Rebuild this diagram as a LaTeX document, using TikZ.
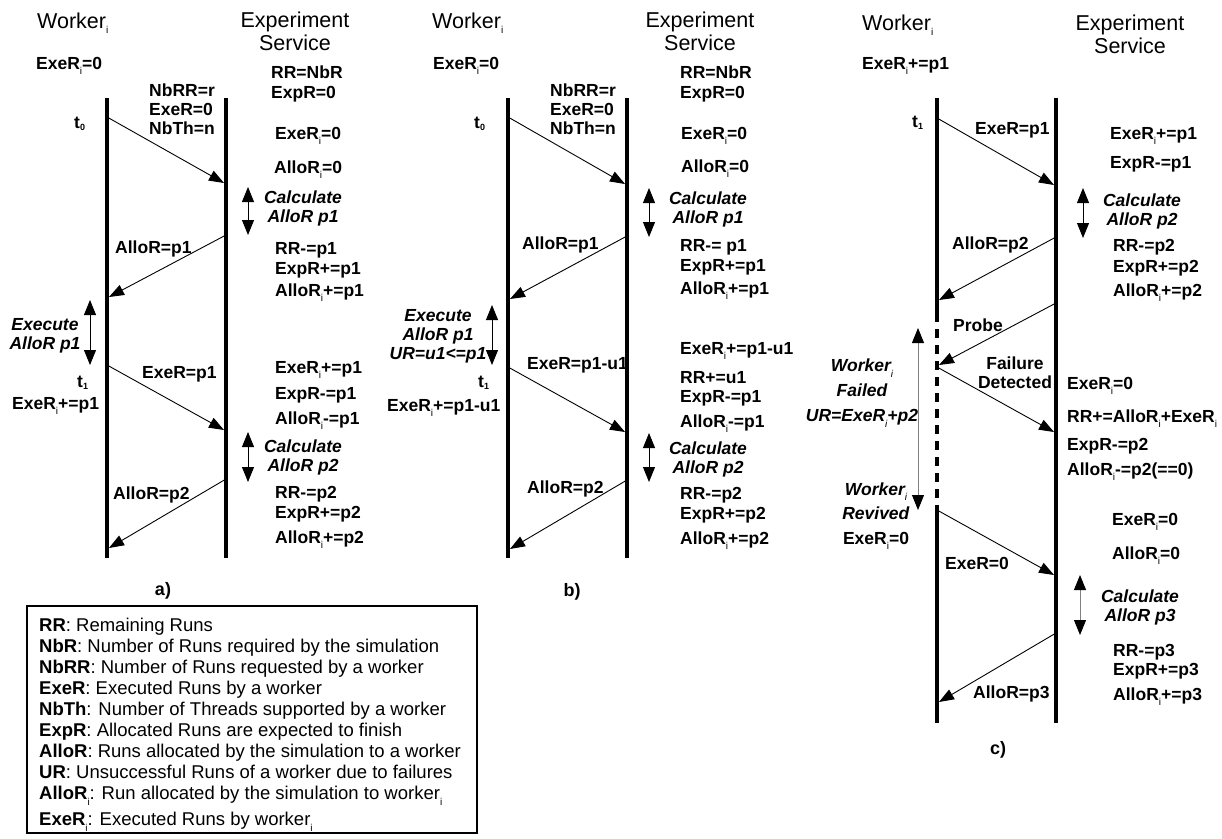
\documentclass[tikz,border=0pt]{standalone}
\usepackage{fontspec}
\setmainfont{Liberation Sans}
\usetikzlibrary{arrows.meta}
\newcommand\lowi[1]{\raisebox{-5.5pt}{\fontsize{10}{10}\selectfont\mdseries #1}}
\newcommand\lowt[1]{\raisebox{-2.5pt}{\fontsize{9}{9}\selectfont #1}}
\tikzset{
  life/.style={line width=4pt},
  msg/.style={line width=0.9pt,-{Triangle[length=15pt,width=11pt]}},
  twoway/.style={line width=0.9pt,{Triangle[length=15pt,width=12pt,color=black]}-{Triangle[length=15pt,width=12pt,color=black]}},
  lbl/.style={font=\bfseries\fontsize{17.5}{19}\selectfont,inner sep=0pt,anchor=base west},
  act/.style={font=\bfseries\itshape\fontsize{17.5}{19}\selectfont,inner sep=0pt,align=center},
  heading/.style={font=\fontsize{21.5}{23}\selectfont,inner sep=0pt},
  tag/.style={font=\bfseries\fontsize{18}{20}\selectfont,inner sep=0pt,anchor=base},
}
\begin{document}
\begin{tikzpicture}[x=1pt,y=-1pt]
\useasboundingbox (0,0) rectangle (1222,838);

% a) normal run
\node[heading,anchor=base west] (aw) at (37,28) {Worker\lowi{i}};
\node[heading,align=center] (as) at (295,31.5) {Experiment\\Service};
\draw[life] (107,98) -- (107,558);
\draw[life] (226,98) -- (226,558);
\coordinate (aw1) at (107,117); \coordinate (as1) at (224,183);
\coordinate (as2) at (226,235); \coordinate (aw2) at (109,297);
\coordinate (aw3) at (107,365); \coordinate (as3) at (224,430);
\coordinate (as4) at (226,479); \coordinate (aw4) at (109,548);
\draw[msg] (aw1) -- (as1);
\draw[msg] (as2) -- (aw2);
\draw[msg] (aw3) -- (as3);
\draw[msg] (as4) -- (aw4);
\draw[twoway] (248,187) -- (248,235);
\draw[twoway] (248,432) -- (248,482);
\draw[twoway] (90,300) -- (90,365);
\node[lbl] (a-exe0) at (36,69) {ExeR\lowi{i}=0};
\node[lbl,align=left,anchor=north west] (a-req) at (149,83.6) {NbRR=r\\ExeR=0\\NbTh=n};
\node[lbl] (a-t0) at (74,128) {t\lowt{0}};
\node[lbl] (a-rr) at (271,78) {RR=NbR};
\node[lbl] (a-exp) at (271,98) {ExpR=0};
\node[lbl] (a-exei) at (275,139) {ExeR\lowi{i}=0};
\node[lbl] (a-alloi) at (274,173) {AlloR\lowi{i}=0};
\node[act] (a-calc1) at (303,208) {Calculate\\AlloR p1};
\node[lbl] (a-m2) at (115,253) {AlloR=p1};
\node[lbl] (a-rr1) at (275,254) {RR-=p1};
\node[lbl] (a-exp1) at (275,274) {ExpR+=p1};
\node[lbl] (a-allo1) at (275,296) {AlloR\lowi{i}+=p1};
\node[act] (a-run) at (45,336) {Execute\\AlloR p1};
\node[lbl] (a-t1) at (77,387) {t\lowt{1}};
\node[lbl] (a-exe1) at (12,409) {ExeR\lowi{i}+=p1};
\node[lbl] (a-m3) at (142,378) {ExeR=p1};
\node[lbl] (a-exei1) at (275,373) {ExeR\lowi{i}+=p1};
\node[lbl] (a-expm1) at (275,399) {ExpR-=p1};
\node[lbl] (a-allom1) at (275,424) {AlloR\lowi{i}-=p1};
\node[act] (a-calc2) at (303,457) {Calculate\\AlloR p2};
\node[lbl] (a-m4) at (113,499) {AlloR=p2};
\node[lbl] (a-rr2) at (275,498) {RR-=p2};
\node[lbl] (a-exp2) at (275,518) {ExpR+=p2};
\node[lbl] (a-allo2) at (275,543) {AlloR\lowi{i}+=p2};
\node[tag] (a-tag) at (163,595) {a)};

% b) partial run
\node[heading,anchor=base west] (bw) at (432,28) {Worker\lowi{i}};
\node[heading,align=center] (bs) at (700,31.5) {Experiment\\Service};
\draw[life] (508,98) -- (508,558);
\draw[life] (627,98) -- (627,558);
\coordinate (bw1) at (508,117); \coordinate (bs1) at (625,184);
\coordinate (bs2) at (627,236); \coordinate (bw2) at (510,299);
\coordinate (bw3) at (508,367); \coordinate (bs3) at (625,432);
\coordinate (bs4) at (627,480); \coordinate (bw4) at (510,549);
\draw[msg] (bw1) -- (bs1);
\draw[msg] (bs2) -- (bw2);
\draw[msg] (bw3) -- (bs3);
\draw[msg] (bs4) -- (bw4);
\draw[twoway] (649,188) -- (649,237);
\draw[twoway] (649,433) -- (649,482);
\draw[twoway] (492,305) -- (492,365);
\node[lbl] (b-exe0) at (433,69) {ExeR\lowi{i}=0};
\node[lbl,align=left,anchor=north west] (b-req) at (550,83.6) {NbRR=r\\ExeR=0\\NbTh=n};
\node[lbl] (b-t0) at (474,128) {t\lowt{0}};
\node[lbl] (b-rr) at (680,78) {RR=NbR};
\node[lbl] (b-exp) at (680,98) {ExpR=0};
\node[lbl] (b-exei) at (681,139) {ExeR\lowi{i}=0};
\node[lbl] (b-alloi) at (681,172) {AlloR\lowi{i}=0};
\node[act] (b-calc1) at (708,209) {Calculate\\AlloR p1};
\node[lbl] (b-m2) at (522,249) {AlloR=p1};
\node[lbl] (b-rr1) at (680,251) {RR-= p1};
\node[lbl] (b-exp1) at (680,271) {ExpR+=p1};
\node[lbl] (b-allo1) at (680,294) {AlloR\lowi{i}+=p1};
\node[act] (b-run) at (438,336) {Execute\\AlloR p1\\UR=u1<=p1};
\node[lbl] (b-t1) at (478,387) {t\lowt{1}};
\node[lbl] (b-exe1) at (387,411) {ExeR\lowi{i}+=p1-u1};
\node[lbl] (b-m3) at (527,369) {ExeR=p1-u1};
\node[lbl] (b-exei1) at (680,354) {ExeR\lowi{i}+=p1-u1};
\node[lbl] (b-rru) at (680,383) {RR+=u1};
\node[lbl] (b-expm1) at (680,402) {ExpR-=p1};
\node[lbl] (b-allom1) at (680,427) {AlloR\lowi{i}-=p1};
\node[act] (b-calc2) at (708,459) {Calculate\\AlloR p2};
\node[lbl] (b-m4) at (527,493) {AlloR=p2};
\node[lbl] (b-rr2) at (680,499) {RR-=p2};
\node[lbl] (b-exp2) at (680,519) {ExpR+=p2};
\node[lbl] (b-allo2) at (680,544) {AlloR\lowi{i}+=p2};
\node[tag] (b-tag) at (572,596) {b)};

% c) failure and revival
\node[heading,anchor=base west] (cw) at (862,30) {Worker\lowi{i}};
\node[heading,align=center] (cs) at (1130,34) {Experiment\\Service};
\draw[life] (937,98) -- (937,313);
\draw[life,dash pattern=on 9pt off 7pt] (937,313) -- (937,508);
\draw[life] (937,508) -- (937,723);
\draw[life] (1056,98) -- (1056,723);
\coordinate (cw1) at (937,118); \coordinate (cs1) at (1054,185);
\coordinate (cs2) at (1056,237); \coordinate (cw2) at (939,300);
\coordinate (cs3) at (1056,303); \coordinate (cw3) at (939,365);
\coordinate (cw4) at (937,367); \coordinate (cs4) at (1054,432);
\coordinate (cw5) at (937,510); \coordinate (cs5) at (1054,575);
\coordinate (cs6) at (1056,633); \coordinate (cw6) at (939,702);
\draw[msg] (cw1) -- (cs1);
\draw[msg] (cs2) -- (cw2);
\draw[msg] (cs3) -- (cw3);
\draw[msg] (cw4) -- (cs4);
\draw[msg] (cw5) -- (cs5);
\draw[msg] (cs6) -- (cw6);
\draw[twoway] (1083,188) -- (1083,238);
\draw[twoway,draw=gray] (918,328) -- (918,510);
\draw[twoway,draw=gray] (1080,575) -- (1080,635);
\node[lbl] (c-exe0) at (862,69) {ExeR\lowi{i}+=p1};
\node[lbl] (c-t1) at (912,127) {t\lowt{1}};
\node[lbl] (c-m1) at (975,134) {ExeR=p1};
\node[lbl] (c-exei1) at (1110,139) {ExeR\lowi{i}+=p1};
\node[lbl] (c-expm1) at (1110,168) {ExpR-=p1};
\node[act] (c-calc2) at (1142,211) {Calculate\\AlloR p2};
\node[lbl] (c-m2) at (952,249) {AlloR=p2};
\node[lbl] (c-rr2) at (1113,251) {RR-=p2};
\node[lbl] (c-exp2) at (1113,272) {ExpR+=p2};
\node[lbl] (c-allo2) at (1113,296) {AlloR\lowi{i}+=p2};
\node[lbl] (c-probe) at (953,331) {Probe};
\node[act,font=\bfseries\fontsize{17.5}{19}\selectfont] (c-fail) at (1015,373) {Failure\\Detected};
\node[act,font=\bfseries\itshape\fontsize{17.5}{25}\selectfont] (c-down) at (862,393) {Worker\lowi{i}\\Failed\\UR=ExeR\lowi{i}+p2};
\node[lbl] (c-exez) at (1067,389) {ExeR\lowi{i}=0};
\node[lbl] (c-rrback) at (1067,422) {RR+=AlloR\lowi{i}+ExeR\lowi{i}};
\node[lbl] (c-expm2) at (1067,450) {ExpR-=p2};
\node[lbl] (c-allom2) at (1067,475) {AlloR\lowi{i}-=p2(==0)};
\node[act,font=\bfseries\fontsize{17.5}{24.5}\selectfont] (c-up) at (876,516) {\textit{Worker\lowi{i}}\\\textit{Revived}\\ExeR\lowi{i}=0};
\node[lbl] (c-m5) at (945,569) {ExeR=0};
\node[lbl] (c-exei5) at (1112,525) {ExeR\lowi{i}=0};
\node[lbl] (c-alloi5) at (1112,559) {AlloR\lowi{i}=0};
\node[act] (c-calc3) at (1140,607) {Calculate\\AlloR p3};
\node[lbl] (c-rr3) at (1113,656) {RR-=p3};
\node[lbl] (c-exp3) at (1113,675) {ExpR+=p3};
\node[lbl] (c-allo3) at (1113,700) {AlloR\lowi{i}+=p3};
\node[lbl] (c-m6) at (973,698) {AlloR=p3};
\node[tag] (c-tag) at (998,754) {c)};

% legend
\draw[line width=1.2pt] (27,606) rectangle (477,833);
\node[inner sep=0pt,anchor=north west,align=left,font=\fontsize{18.5}{21}\selectfont] (key) at (39,618.3)
  {\textbf{RR}: Remaining Runs\\
   \textbf{NbR}: Number of Runs required by the simulation\\
   \textbf{NbRR}: Number of Runs requested by a worker\\
   \textbf{ExeR}: Executed Runs by a worker\\
   \textbf{NbTh}: Number of Threads supported by a worker\\
   \textbf{ExpR}: Allocated Runs are expected to finish\\
   \textbf{AlloR}: Runs allocated by the simulation to a worker\\
   \textbf{UR}: Unsuccessful Runs of a worker due to failures\\
   \textbf{AlloR\lowi{i}}: Run allocated by the simulation to worker\lowi{i}\\[5pt]
   \textbf{ExeR\lowi{i}}: Executed Runs by worker\lowi{i}};
\end{tikzpicture}
\end{document}
